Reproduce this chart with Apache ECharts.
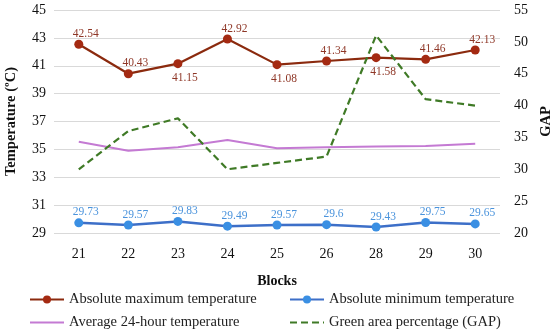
<!DOCTYPE html>
<html><head><meta charset="utf-8">
<script src="https://cdn.jsdelivr.net/npm/echarts@6/dist/echarts.min.js"></script>
<style>html,body{margin:0;padding:0;background:#fff}#c{width:550px;height:336px}</style>
</head><body><div id="c"></div>
<script>
const blocks = ['21','22','23','24','25','26','28','29','30'];
const maxTemp = [42.54, 40.43, 41.15, 42.92, 41.08, 41.34, 41.58, 41.46, 42.13];
const maxLabelPos = ['top','top','bottom','top','bottom','top','bottom','top','top'];
const minTemp = [29.73, 29.57, 29.83, 29.49, 29.57, 29.6, 29.43, 29.75, 29.65];
const avgTemp = [35.55, 34.9, 35.15, 35.67, 35.08, 35.15, 35.2, 35.25, 35.4];
const gap = [30, 36, 38, 30, 31, 32, 51, 41, 40];

const F = 'Liberation Serif, DejaVu Serif, serif';
const legendText = {fontFamily: F, fontSize: 14.5, color: '#222'};
const noMarker = {color: 'rgba(0,0,0,0)', borderWidth: 0};
function leg(name, left, top, extra) {
  return {
    left: left, top: top, padding: 0, itemGap: 0,
    itemWidth: 34, itemHeight: 10, textStyle: legendText,
    data: [Object.assign({name: name}, extra || {})]
  };
}
const chart = echarts.init(document.getElementById('c'));
chart.setOption({
  animation: false,
  textStyle: {fontFamily: F},
  grid: {left: 54, right: 50, top: 10, bottom: 103, outerBoundsMode: 'none', containLabel: false},
  legend: [
    leg('Absolute maximum temperature', 29, 292),
    leg('Absolute minimum temperature', 289, 292),
    leg('Average 24-hour temperature', 29, 315, {itemStyle: noMarker}),
    leg('Green area percentage (GAP)', 289, 315, {itemStyle: noMarker})
  ],
  xAxis: {
    type: 'category', data: blocks, boundaryGap: true,
    name: 'Blocks', nameLocation: 'middle', nameGap: 41,
    nameTextStyle: {fontFamily: F, fontWeight: 'bold', fontSize: 14, color: '#111'},
    axisLine: {show: false}, axisTick: {show: false},
    axisLabel: {fontFamily: F, fontSize: 14, color: '#111', margin: 14}
  },
  yAxis: [{
    type: 'value', min: 29, max: 45, interval: 2,
    name: 'Temperature (ºC)', nameLocation: 'middle', nameGap: 35,
    nameTextStyle: {fontFamily: F, fontWeight: 'bold', fontSize: 14.5, color: '#111'},
    axisLabel: {fontFamily: F, fontSize: 14, color: '#111', margin: 8},
    splitLine: {lineStyle: {color: '#d9d9d9'}},
    axisLine: {show: false}, axisTick: {show: false}
  }, {
    type: 'value', min: 20, max: 55, interval: 5,
    name: 'GAP', nameLocation: 'middle', nameGap: 33,
    nameTextStyle: {fontFamily: F, fontWeight: 'bold', fontSize: 14.5, color: '#111'},
    axisLabel: {fontFamily: F, fontSize: 14, color: '#111', margin: 14},
    splitLine: {show: false},
    axisLine: {show: false}, axisTick: {show: false}
  }],
  series: [{
    name: 'Absolute maximum temperature', type: 'line', yAxisIndex: 0,
    data: maxTemp.map((v, i) => ({value: v, label: {position: maxLabelPos[i], distance: maxLabelPos[i] === 'top' ? 0 : 4}})),
    symbol: 'circle', symbolSize: 9,
    lineStyle: {color: '#8b2a0e', width: 2.2},
    itemStyle: {color: '#a42a12'},
    label: {show: true, fontFamily: F, fontSize: 11.5, color: '#8e3626', offset: [7, 0]}
  }, {
    name: 'Absolute minimum temperature', type: 'line', yAxisIndex: 0,
    data: minTemp,
    symbol: 'circle', symbolSize: 9,
    lineStyle: {color: '#3d6fc8', width: 2.5},
    itemStyle: {color: '#3a8fe3'},
    label: {show: true, position: 'top', fontFamily: F, fontSize: 11.5, color: '#4a93dc', distance: 0, offset: [7, 0]}
  }, {
    name: 'Average 24-hour temperature', type: 'line', yAxisIndex: 0,
    data: avgTemp, symbol: 'none',
    lineStyle: {color: '#c47ad3', width: 2},
    itemStyle: {color: '#c47ad3'}
  }, {
    name: 'Green area percentage (GAP)', type: 'line', yAxisIndex: 1,
    data: gap, symbol: 'none',
    lineStyle: {color: '#3f7a26', width: 2.2, type: [7, 4]},
    itemStyle: {color: '#3f7a26'}
  }]
});
</script></body></html>
